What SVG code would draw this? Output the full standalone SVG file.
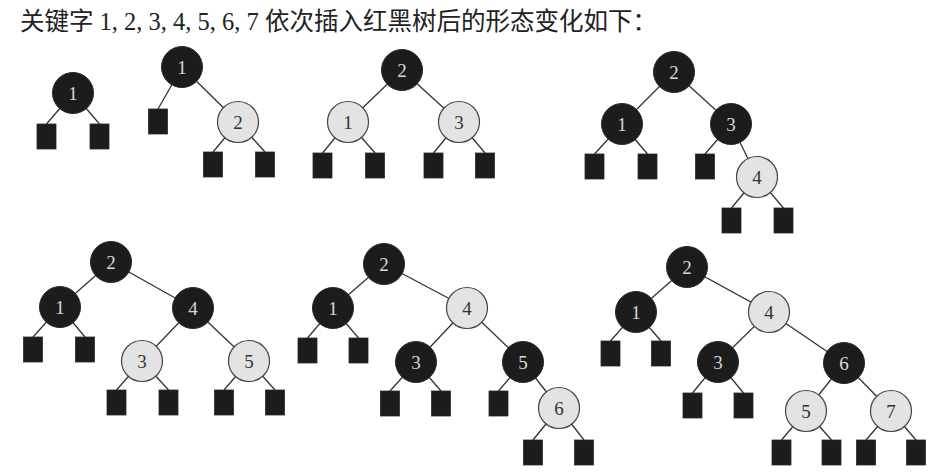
<svg xmlns="http://www.w3.org/2000/svg" width="938" height="473" viewBox="0 0 938 473">
<style>
.bg{fill:#ffffff}
.title{font-family:"Liberation Serif","Noto Sans CJK SC",serif;font-size:24.5px;fill:#222}
.e line{stroke:#333;stroke-width:1.3}
.blk circle{fill:#1c1c1c;stroke:#2a2a2a;stroke-width:1}
.red circle{fill:#e3e3e3;stroke:#444;stroke-width:1.2}
.blk text{fill:#d8d8d8}
.red text{fill:#333}
text.k{font-family:"Liberation Serif",serif;font-size:19px;text-anchor:middle}
.leaf rect{fill:#1c1c1c;stroke:#2a2a2a;stroke-width:0.8}
</style>
<rect class="bg" x="0" y="0" width="938" height="473"/>
<text class="title" x="20" y="30">关键字 1, 2, 3, 4, 5, 6, 7 依次插入红黑树后的形态变化如下：</text>

<g id="connectors" class="e">
<!-- tree 1 -->
<line x1="73" y1="93" x2="46.5" y2="124"/><line x1="73" y1="93" x2="99.5" y2="124"/>
<!-- tree 2 -->
<line x1="182" y1="67" x2="158" y2="109"/><line x1="182" y1="67" x2="238" y2="122"/>
<line x1="238" y1="122" x2="213" y2="152"/><line x1="238" y1="122" x2="265" y2="152"/>
<!-- tree 3 -->
<line x1="402" y1="70" x2="348" y2="122"/><line x1="402" y1="70" x2="459" y2="122"/>
<line x1="348" y1="122" x2="322.5" y2="153"/><line x1="348" y1="122" x2="375" y2="153"/>
<line x1="459" y1="122" x2="433.5" y2="153"/><line x1="459" y1="122" x2="485" y2="153"/>
<!-- tree 4 -->
<line x1="674" y1="72" x2="622" y2="124"/><line x1="674" y1="72" x2="731" y2="124"/>
<line x1="622" y1="124" x2="594.5" y2="154"/><line x1="622" y1="124" x2="647.5" y2="154"/>
<line x1="731" y1="124" x2="705" y2="154"/><line x1="731" y1="124" x2="757" y2="177"/>
<line x1="757" y1="177" x2="731.5" y2="208"/><line x1="757" y1="177" x2="783.5" y2="208"/>
<!-- tree 5 -->
<line x1="111" y1="262" x2="60" y2="307"/><line x1="111" y1="262" x2="193" y2="308"/>
<line x1="60" y1="307" x2="33" y2="337"/><line x1="60" y1="307" x2="85" y2="337"/>
<line x1="193" y1="308" x2="142" y2="361"/><line x1="193" y1="308" x2="249" y2="361"/>
<line x1="142" y1="361" x2="116.5" y2="390"/><line x1="142" y1="361" x2="168.5" y2="390"/>
<line x1="249" y1="361" x2="224" y2="390"/><line x1="249" y1="361" x2="275" y2="390"/>
<!-- tree 6 -->
<line x1="384" y1="264" x2="333" y2="308"/><line x1="384" y1="264" x2="467" y2="308"/>
<line x1="333" y1="308" x2="307.5" y2="338"/><line x1="333" y1="308" x2="358.5" y2="338"/>
<line x1="467" y1="308" x2="416" y2="362"/><line x1="467" y1="308" x2="523" y2="362"/>
<line x1="416" y1="362" x2="390" y2="391"/><line x1="416" y1="362" x2="441" y2="391"/>
<line x1="523" y1="362" x2="498.5" y2="391"/><line x1="523" y1="362" x2="559" y2="408"/>
<line x1="559" y1="408" x2="533" y2="440"/><line x1="559" y1="408" x2="584" y2="440"/>
<!-- tree 7 -->
<line x1="687" y1="267" x2="636" y2="312"/><line x1="687" y1="267" x2="769" y2="312"/>
<line x1="636" y1="312" x2="610.5" y2="341"/><line x1="636" y1="312" x2="661" y2="341"/>
<line x1="769" y1="312" x2="718" y2="362"/><line x1="769" y1="312" x2="844" y2="363"/>
<line x1="718" y1="362" x2="692.5" y2="393"/><line x1="718" y1="362" x2="743.5" y2="393"/>
<line x1="844" y1="363" x2="806" y2="411"/><line x1="844" y1="363" x2="891" y2="411"/>
<line x1="806" y1="411" x2="781.5" y2="440"/><line x1="806" y1="411" x2="831.5" y2="440"/>
<line x1="891" y1="411" x2="866" y2="440"/><line x1="891" y1="411" x2="916" y2="440"/>
</g>

<!-- tree 1 -->
<g id="t1-n1" class="blk"><circle cx="73" cy="93" r="20.5"/><text class="k" x="73" y="99.5">1</text></g>
<g id="t1-l1" class="leaf"><rect x="37" y="124" width="19" height="25"/></g>
<g id="t1-l2" class="leaf"><rect x="90" y="124" width="19" height="25"/></g>

<!-- tree 2 -->
<g id="t2-n1" class="blk"><circle cx="182" cy="67" r="20.5"/><text class="k" x="182" y="73.5">1</text></g>
<g id="t2-n2" class="red"><circle cx="238" cy="122" r="20.5"/><text class="k" x="238" y="128.5">2</text></g>
<g id="t2-l1" class="leaf"><rect x="148.5" y="109" width="19" height="25"/></g>
<g id="t2-l2" class="leaf"><rect x="203.5" y="152" width="19" height="25"/></g>
<g id="t2-l3" class="leaf"><rect x="255.5" y="152" width="19" height="25"/></g>

<!-- tree 3 -->
<g id="t3-n2" class="blk"><circle cx="402" cy="70" r="20.5"/><text class="k" x="402" y="76.5">2</text></g>
<g id="t3-n1" class="red"><circle cx="348" cy="122" r="20.5"/><text class="k" x="348" y="128.5">1</text></g>
<g id="t3-n3" class="red"><circle cx="459" cy="122" r="20.5"/><text class="k" x="459" y="128.5">3</text></g>
<g id="t3-l1" class="leaf"><rect x="313" y="153" width="19" height="25"/></g>
<g id="t3-l2" class="leaf"><rect x="365.5" y="153" width="19" height="25"/></g>
<g id="t3-l3" class="leaf"><rect x="424" y="153" width="19" height="25"/></g>
<g id="t3-l4" class="leaf"><rect x="475.5" y="153" width="19" height="25"/></g>

<!-- tree 4 -->
<g id="t4-n2" class="blk"><circle cx="674" cy="72" r="20.5"/><text class="k" x="674" y="78.5">2</text></g>
<g id="t4-n1" class="blk"><circle cx="622" cy="124" r="20.5"/><text class="k" x="622" y="130.5">1</text></g>
<g id="t4-n3" class="blk"><circle cx="731" cy="124" r="20.5"/><text class="k" x="731" y="130.5">3</text></g>
<g id="t4-n4" class="red"><circle cx="757" cy="177" r="20.5"/><text class="k" x="757" y="183.5">4</text></g>
<g id="t4-l1" class="leaf"><rect x="585" y="154" width="19" height="25"/></g>
<g id="t4-l2" class="leaf"><rect x="638" y="154" width="19" height="25"/></g>
<g id="t4-l3" class="leaf"><rect x="695.5" y="154" width="19" height="25"/></g>
<g id="t4-l4" class="leaf"><rect x="722" y="208" width="19" height="25"/></g>
<g id="t4-l5" class="leaf"><rect x="774" y="208" width="19" height="25"/></g>

<!-- tree 5 -->
<g id="t5-n2" class="blk"><circle cx="111" cy="262" r="20.5"/><text class="k" x="111" y="268.5">2</text></g>
<g id="t5-n1" class="blk"><circle cx="60" cy="307" r="20.5"/><text class="k" x="60" y="313.5">1</text></g>
<g id="t5-n4" class="blk"><circle cx="193" cy="308" r="20.5"/><text class="k" x="193" y="314.5">4</text></g>
<g id="t5-n3" class="red"><circle cx="142" cy="361" r="20.5"/><text class="k" x="142" y="367.5">3</text></g>
<g id="t5-n5" class="red"><circle cx="249" cy="361" r="20.5"/><text class="k" x="249" y="367.5">5</text></g>
<g id="t5-l1" class="leaf"><rect x="23.5" y="337" width="19" height="25"/></g>
<g id="t5-l2" class="leaf"><rect x="75.5" y="337" width="19" height="25"/></g>
<g id="t5-l3" class="leaf"><rect x="107" y="390" width="19" height="25"/></g>
<g id="t5-l4" class="leaf"><rect x="159" y="390" width="19" height="25"/></g>
<g id="t5-l5" class="leaf"><rect x="214.5" y="390" width="19" height="25"/></g>
<g id="t5-l6" class="leaf"><rect x="265.5" y="390" width="19" height="25"/></g>

<!-- tree 6 -->
<g id="t6-n2" class="blk"><circle cx="384" cy="264" r="20.5"/><text class="k" x="384" y="270.5">2</text></g>
<g id="t6-n1" class="blk"><circle cx="333" cy="308" r="20.5"/><text class="k" x="333" y="314.5">1</text></g>
<g id="t6-n4" class="red"><circle cx="467" cy="308" r="20.5"/><text class="k" x="467" y="314.5">4</text></g>
<g id="t6-n3" class="blk"><circle cx="416" cy="362" r="20.5"/><text class="k" x="416" y="368.5">3</text></g>
<g id="t6-n5" class="blk"><circle cx="523" cy="362" r="20.5"/><text class="k" x="523" y="368.5">5</text></g>
<g id="t6-n6" class="red"><circle cx="559" cy="408" r="20.5"/><text class="k" x="559" y="414.5">6</text></g>
<g id="t6-l1" class="leaf"><rect x="298" y="338" width="19" height="25"/></g>
<g id="t6-l2" class="leaf"><rect x="349" y="338" width="19" height="25"/></g>
<g id="t6-l3" class="leaf"><rect x="380.5" y="391" width="19" height="25"/></g>
<g id="t6-l4" class="leaf"><rect x="431.5" y="391" width="19" height="25"/></g>
<g id="t6-l5" class="leaf"><rect x="489" y="391" width="19" height="25"/></g>
<g id="t6-l6" class="leaf"><rect x="523.5" y="440" width="19" height="25"/></g>
<g id="t6-l7" class="leaf"><rect x="574.5" y="440" width="19" height="25"/></g>

<!-- tree 7 -->
<g id="t7-n2" class="blk"><circle cx="687" cy="267" r="20.5"/><text class="k" x="687" y="273.5">2</text></g>
<g id="t7-n1" class="blk"><circle cx="636" cy="312" r="20.5"/><text class="k" x="636" y="318.5">1</text></g>
<g id="t7-n4" class="red"><circle cx="769" cy="312" r="20.5"/><text class="k" x="769" y="318.5">4</text></g>
<g id="t7-n3" class="blk"><circle cx="718" cy="362" r="20.5"/><text class="k" x="718" y="368.5">3</text></g>
<g id="t7-n6" class="blk"><circle cx="844" cy="363" r="20.5"/><text class="k" x="844" y="369.5">6</text></g>
<g id="t7-n5" class="red"><circle cx="806" cy="411" r="20.5"/><text class="k" x="806" y="417.5">5</text></g>
<g id="t7-n7" class="red"><circle cx="891" cy="411" r="20.5"/><text class="k" x="891" y="417.5">7</text></g>
<g id="t7-l1" class="leaf"><rect x="601" y="341" width="19" height="25"/></g>
<g id="t7-l2" class="leaf"><rect x="651.5" y="341" width="19" height="25"/></g>
<g id="t7-l3" class="leaf"><rect x="683" y="393" width="19" height="25"/></g>
<g id="t7-l4" class="leaf"><rect x="734" y="393" width="19" height="25"/></g>
<g id="t7-l5" class="leaf"><rect x="772" y="440" width="19" height="25"/></g>
<g id="t7-l6" class="leaf"><rect x="822" y="440" width="19" height="25"/></g>
<g id="t7-l7" class="leaf"><rect x="856.5" y="440" width="19" height="25"/></g>
<g id="t7-l8" class="leaf"><rect x="906.5" y="440" width="19" height="25"/></g>
</svg>
